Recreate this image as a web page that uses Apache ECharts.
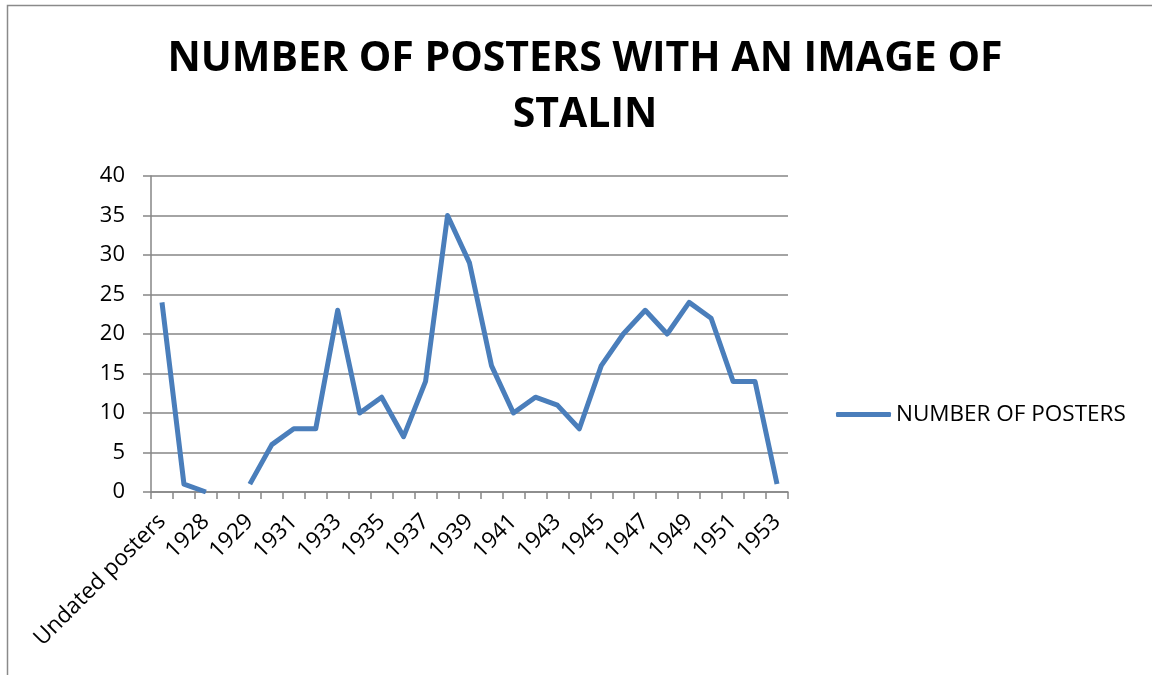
<!DOCTYPE html>
<html><head><meta charset="utf-8">
<script src="https://cdn.jsdelivr.net/npm/echarts@6/dist/echarts.min.js"></script>
<style>html,body{margin:0;padding:0;background:#fff}#c{width:1152px;height:675px}</style>
</head><body><div id="c"></div>
<script>
const categories = ["Undated posters","1927","1928","1928-1929","1929","1930","1931","1932","1933","1934","1935","1936","1937","1938","1939","1940","1941","1942","1943","1944","1945","1946","1947","1948","1949","1950","1951","1952","1953"];
const posters = [24,1,0,null,1,6,8,8,23,10,12,7,14,35,29,16,10,12,11,8,16,20,23,20,24,22,14,14,1];
const yTicks = {min:0,max:40,interval:5};
const seriesName = "NUMBER OF POSTERS";
const titleText = "NUMBER OF POSTERS WITH AN IMAGE OF\nSTALIN";

const chart = echarts.init(document.getElementById('c'));
const font = "'Open Sans', sans-serif";
chart.setOption({
  animation:false,
  graphic:[{type:'rect',shape:{x:7.5,y:5.5,width:3000,height:3000},style:{fill:'none',stroke:'#8a8a8a',lineWidth:1.5},silent:true}],
  title:{text:titleText,left:580,textAlign:'center',top:26,
    textStyle:{fontFamily:font,fontWeight:'bold',fontSize:41,lineHeight:56,color:'#000'}},
  legend:{left:831,top:398,itemWidth:55,itemHeight:5,itemGap:4,
    textStyle:{fontFamily:font,fontSize:22.5,color:'#000'},
    data:[{name:seriesName,icon:'roundRect'}]},
  grid:{left:151,right:364,top:176,bottom:183,containLabel:false},
  xAxis:{type:'category',data:categories,boundaryGap:true,
    axisLine:{lineStyle:{color:'#868686',width:1.5}},
    axisTick:{show:true,alignWithLabel:false,interval:0,length:7,lineStyle:{color:'#868686',width:1.5}},
    axisLabel:{interval:1,rotate:45,fontFamily:font,fontSize:22.5,color:'#000',margin:26}},
  yAxis:{type:'value',min:yTicks.min,max:yTicks.max,interval:yTicks.interval,
    axisLine:{show:true,lineStyle:{color:'#868686',width:1.5}},
    axisTick:{show:true,length:8,lineStyle:{color:'#868686',width:1.5}},
    splitLine:{lineStyle:{color:'#868686',width:1.5}},
    axisLabel:{fontFamily:font,fontSize:22,color:'#000',margin:26}},
  series:[{type:'line',name:seriesName,data:posters,showSymbol:false,symbol:'none',
    connectNulls:false,lineStyle:{color:'#4a7ebb',width:5,join:'round'},itemStyle:{color:'#4a7ebb'}}]
});
</script></body></html>
